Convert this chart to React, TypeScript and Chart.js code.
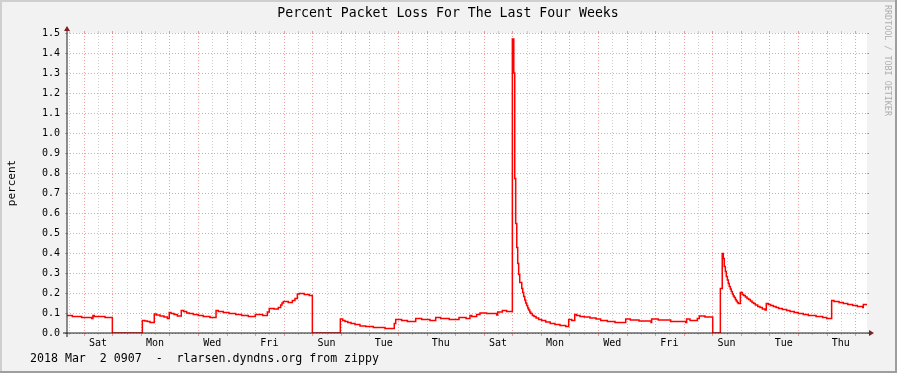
import React, { useEffect, useRef } from 'react';
import { Chart, registerables } from 'chart.js';

Chart.register(...registerables);

const TITLE = 'Percent Packet Loss For The Last Four Weeks';
const Y_LABEL = 'percent';
const FOOTER = '2018 Mar  2 0907  -  rlarsen.dyndns.org from zippy';
const WATERMARK = 'RRDTOOL / TOBI OETIKER';

// x tick labels (every second day, centred at noon)
const dayLabels = ['Sat', 'Mon', 'Wed', 'Fri', 'Sun', 'Tue', 'Thu', 'Sat', 'Mon', 'Wed', 'Fri', 'Sun', 'Tue', 'Thu'];
const RANGE_HOURS = 672; // four weeks
const FIRST_MIDNIGHT = 14.0; // hours from window start to first midnight
const Y_MAX = 1.5;
const Y_STEP = 0.1;

// step start times (hours since window start)
const stepHours = [
  0, 4.5, 12.3, 20.7, 21.8, 22.9, 31.9, 38.1, 63.3, 65.5, 67.5, 69.7, 73.3, 75.0, 78.1, 81.5, 84.3, 85.9, 87.4, 89.9,
  92.7, 96.0, 98.0, 100.5, 102.7, 106.1, 110.3, 114.5, 120.1, 125.2, 127.1, 131.3, 136.1, 141.7, 146.7, 152.3, 158.2,
  164.4, 168.3, 169.9, 173.9, 177.5, 179.5, 180.6, 181.7, 185.9, 189.3, 191.5, 193.5, 195.1, 199.3, 203.5, 206.1,
  229.6, 231.6, 233.5, 235.8, 238.6, 241.9, 246.1, 250.9, 257.3, 267.1, 274.9, 276.1, 281.1, 285.9, 292.9, 297.9,
  304.9, 309.7, 313.9, 321.1, 329.3, 335.2, 338.5, 340.0, 344.1, 346.9, 352.5, 361.0, 361.8, 365.7, 369.3,
  374.1, 375.3, 376.1, 376.9, 377.8, 378.6, 379.4, 380.3, 382.0, 382.8, 383.6, 384.5, 385.3, 386.1, 387.0, 387.8,
  388.7, 389.5, 390.9, 392.3, 394.0, 396.2, 398.7, 402.1, 405.9, 409.9, 414.1, 418.9, 421.4, 424.0, 426.5, 428.1,
  430.9, 434.5, 439.3, 444.4, 448.3, 453.9, 460.3, 469.3, 473.2, 480.5, 490.6, 491.1, 496.7, 507.1, 519.7, 520.5,
  523.3, 529.5, 531.1, 535.9, 542.4, 548.8, 550.4, 551.3, 552.1, 553.0, 553.8, 554.7, 555.5, 556.3, 557.2, 558.0,
  558.9, 559.7, 560.5, 561.4, 562.2, 563.1, 563.9, 565.6, 567.3, 568.4, 569.8, 571.2, 572.6, 574.0, 575.4, 576.8,
  578.2, 580.2, 582.1, 584.1, 586.3, 587.4, 589.1, 591.1, 593.3, 595.6, 597.8, 600.9, 604.5, 607.3, 610.9, 614.3,
  618.5, 622.7, 629.2, 634.8, 638.2, 642.3, 644.3, 648.5, 652.1, 655.8, 660.0, 663.9, 668.4, 668.9, 672,
];

// percent packet loss held from each step start
const lossValues = [
  0.088, 0.082, 0.078, 0.073, 0.088, 0.083, 0.078, 0, 0.063, 0.06, 0.057, 0.052, 0.095, 0.09, 0.085, 0.08, 0.073, 0.103, 0.097, 0.092,
  0.085, 0.113, 0.107, 0.1, 0.097, 0.092, 0.087, 0.082, 0.077, 0.113, 0.108, 0.103, 0.098, 0.092, 0.088, 0.083, 0.093,
  0.088, 0.105, 0.123, 0.12, 0.128, 0.14, 0.15, 0.158, 0.153, 0.163, 0.173, 0.195, 0.198, 0.193, 0.188, 0,
  0.07, 0.062, 0.057, 0.052, 0.047, 0.042, 0.035, 0.033, 0.028, 0.023, 0.048, 0.068, 0.063, 0.058, 0.073, 0.068,
  0.063, 0.078, 0.073, 0.068, 0.078, 0.073, 0.088, 0.083, 0.093, 0.1, 0.098, 0.09, 0.105, 0.113, 0.108,
  1.47, 1.3, 0.773, 0.548, 0.428, 0.348, 0.293, 0.253, 0.223, 0.202, 0.182, 0.165, 0.15, 0.137, 0.125, 0.115,
  0.105, 0.097, 0.088, 0.082, 0.075, 0.068, 0.062, 0.055, 0.048, 0.043, 0.037, 0.033, 0.068, 0.062, 0.093, 0.088,
  0.083, 0.08, 0.075, 0.07, 0.063, 0.058, 0.053, 0.07, 0.065, 0.06, 0.053, 0.07, 0.065, 0.058, 0.052, 0.07,
  0.063, 0.072, 0.085, 0.08, 0, 0.223, 0.398, 0.373, 0.332, 0.307, 0.282, 0.265, 0.248, 0.233, 0.22, 0.207,
  0.195, 0.185, 0.177, 0.168, 0.16, 0.153, 0.147, 0.203, 0.193, 0.187, 0.18, 0.173, 0.167, 0.16, 0.153, 0.147,
  0.14, 0.133, 0.127, 0.12, 0.115, 0.148, 0.143, 0.138, 0.133, 0.128, 0.123, 0.118, 0.113, 0.108, 0.103, 0.098,
  0.093, 0.088, 0.083, 0.078, 0.073, 0.163, 0.157, 0.152, 0.147, 0.142, 0.137, 0.133, 0.127, 0.143, 0.143,
];

const MONO = '"DejaVu Sans Mono", monospace';
const W = 897;
const H = 373;

const rrdPlugin = {
  id: 'rrdDecor',
  beforeDraw(chart: any) {
    const { ctx, chartArea: a } = chart;
    ctx.save();
    ctx.fillStyle = '#f2f2f2';
    ctx.fillRect(0, 0, W, H);
    ctx.fillStyle = '#cfcfcf';
    ctx.fillRect(0, 0, W, 2);
    ctx.fillRect(0, 0, 2, H);
    ctx.fillStyle = '#9e9e9e';
    ctx.fillRect(0, H - 2, W, 2);
    ctx.fillRect(W - 2, 0, 2, H);
    ctx.fillStyle = '#ffffff';
    ctx.fillRect(a.left, a.top, a.right - a.left, a.bottom - a.top);
    ctx.restore();
  },
  beforeDatasetsDraw(chart: any) {
    const { ctx, chartArea: a, scales } = chart;
    const xs = scales.x;
    const ys = scales.y;
    const minor = 'rgba(150,150,150,0.45)';
    const major = 'rgba(222,70,70,0.5)';
    ctx.save();
    ctx.lineWidth = 1;
    // vertical grid every 12 hours
    for (let h = FIRST_MIDNIGHT - 12; h <= RANGE_HOURS; h += 12) {
      if (h < 0) continue;
      const isMajor = Math.abs(((h - FIRST_MIDNIGHT) % 24 + 24) % 24) < 0.01;
      const x = Math.round(xs.getPixelForValue(h)) + 0.5;
      ctx.strokeStyle = isMajor ? major : minor;
      ctx.setLineDash([]);
      ctx.beginPath();
      ctx.moveTo(x, a.bottom);
      ctx.lineTo(x, a.bottom + (isMajor ? 3 : 2));
      ctx.moveTo(x, a.top - 2);
      ctx.lineTo(x, a.top);
      ctx.stroke();
      ctx.setLineDash([1, 2]);
      ctx.beginPath();
      ctx.moveTo(x, a.top);
      ctx.lineTo(x, a.bottom);
      ctx.stroke();
    }
    // horizontal grid
    for (let i = 0; i * Y_STEP <= Y_MAX + 1e-9; i++) {
      const y = Math.round(ys.getPixelForValue(i * Y_STEP)) + 0.5;
      ctx.strokeStyle = major;
      ctx.setLineDash([]);
      ctx.beginPath();
      ctx.moveTo(a.left - 2, y);
      ctx.lineTo(a.left, y);
      ctx.moveTo(a.right, y);
      ctx.lineTo(a.right + 2, y);
      ctx.stroke();
      ctx.setLineDash([1, 2]);
      ctx.beginPath();
      ctx.moveTo(a.left, y);
      ctx.lineTo(a.right + 2, y);
      ctx.stroke();
    }
    ctx.restore();
  },
  afterDatasetsDraw(chart: any) {
    const { ctx, chartArea: a } = chart;
    ctx.save();
    ctx.strokeStyle = '#1f1f1f';
    ctx.lineWidth = 1;
    ctx.beginPath();
    ctx.moveTo(a.left - 4, a.bottom);
    ctx.lineTo(a.right + 4, a.bottom);
    ctx.moveTo(a.left, a.bottom + 4);
    ctx.lineTo(a.left, a.top - 4);
    ctx.stroke();
    ctx.fillStyle = '#801f1f';
    ctx.beginPath();
    ctx.moveTo(a.right + 2, a.bottom - 3);
    ctx.lineTo(a.right + 2, a.bottom + 3);
    ctx.lineTo(a.right + 7, a.bottom);
    ctx.closePath();
    ctx.fill();
    ctx.beginPath();
    ctx.moveTo(a.left - 3, a.top - 2);
    ctx.lineTo(a.left + 3, a.top - 2);
    ctx.lineTo(a.left, a.top - 7);
    ctx.closePath();
    ctx.fill();
    ctx.restore();
  },
  afterDraw(chart: any) {
    const { ctx, chartArea: a } = chart;
    ctx.save();
    ctx.fillStyle = '#000000';
    ctx.textBaseline = 'middle';
    ctx.textAlign = 'center';
    ctx.font = `13.2px ${MONO}`;
    ctx.fillText(TITLE, 448, 14);
    ctx.font = `11.6px ${MONO}`;
    ctx.textAlign = 'left';
    ctx.fillText(FOOTER, 30, 359);
    ctx.save();
    ctx.translate(12, (a.top + a.bottom) / 2);
    ctx.rotate(-Math.PI / 2);
    ctx.textAlign = 'center';
    ctx.font = `11px ${MONO}`;
    ctx.fillText(Y_LABEL, 0, 0);
    ctx.restore();
    ctx.save();
    ctx.translate(887, 5);
    ctx.rotate(Math.PI / 2);
    ctx.textAlign = 'left';
    ctx.fillStyle = 'rgba(0,0,0,0.3)';
    ctx.font = `8.4px ${MONO}`;
    ctx.fillText(WATERMARK, 0, 0);
    ctx.restore();
    ctx.restore();
  },
};

export default function App() {
  const ref = useRef<HTMLCanvasElement | null>(null);
  useEffect(() => {
    document.body.style.margin = '0';
    const canvas = ref.current;
    if (!canvas) return;
    const chart = new Chart(canvas, {
      type: 'line',
      data: {
        datasets: [
          {
            data: stepHours.map((h, i) => ({ x: h, y: lossValues[i] })),
            borderColor: '#ff0000',
            borderWidth: 1.5,
            stepped: true,
            pointRadius: 0,
            fill: false,
          },
        ],
      },
      options: {
        animation: false,
        responsive: false,
        maintainAspectRatio: false,
        devicePixelRatio: 1,
        layout: { padding: { top: 33, right: 30, left: 0, bottom: 0 } },
        plugins: { legend: { display: false }, tooltip: { enabled: false }, title: { display: false } },
        scales: {
          x: {
            type: 'linear',
            min: 0,
            max: RANGE_HOURS,
            grid: { display: false, drawTicks: false },
            border: { display: false },
            afterBuildTicks: (s: any) => {
              s.ticks = dayLabels.map((_, i) => ({ value: FIRST_MIDNIGHT + 12 + 48 * i }));
            },
            ticks: {
              autoSkip: false,
              maxRotation: 0,
              minRotation: 0,
              padding: 4,
              color: '#000000',
              font: { family: MONO, size: 10 },
              callback: (_v: any, i: number) => dayLabels[i],
            },
            afterFit: (s: any) => {
              s.height = 40;
            },
          },
          y: {
            min: 0,
            max: Y_MAX,
            grid: { display: false, drawTicks: false },
            border: { display: false },
            ticks: {
              stepSize: Y_STEP,
              padding: 7,
              color: '#000000',
              font: { family: MONO, size: 10 },
              callback: (v: any) => Number(v).toFixed(1),
            },
            afterFit: (s: any) => {
              s.width = 67;
            },
          },
        },
      },
      plugins: [rrdPlugin],
    });
    return () => chart.destroy();
  }, []);
  return <canvas ref={ref} width={W} height={H} style={{ display: 'block', width: W, height: H }} />;
}
